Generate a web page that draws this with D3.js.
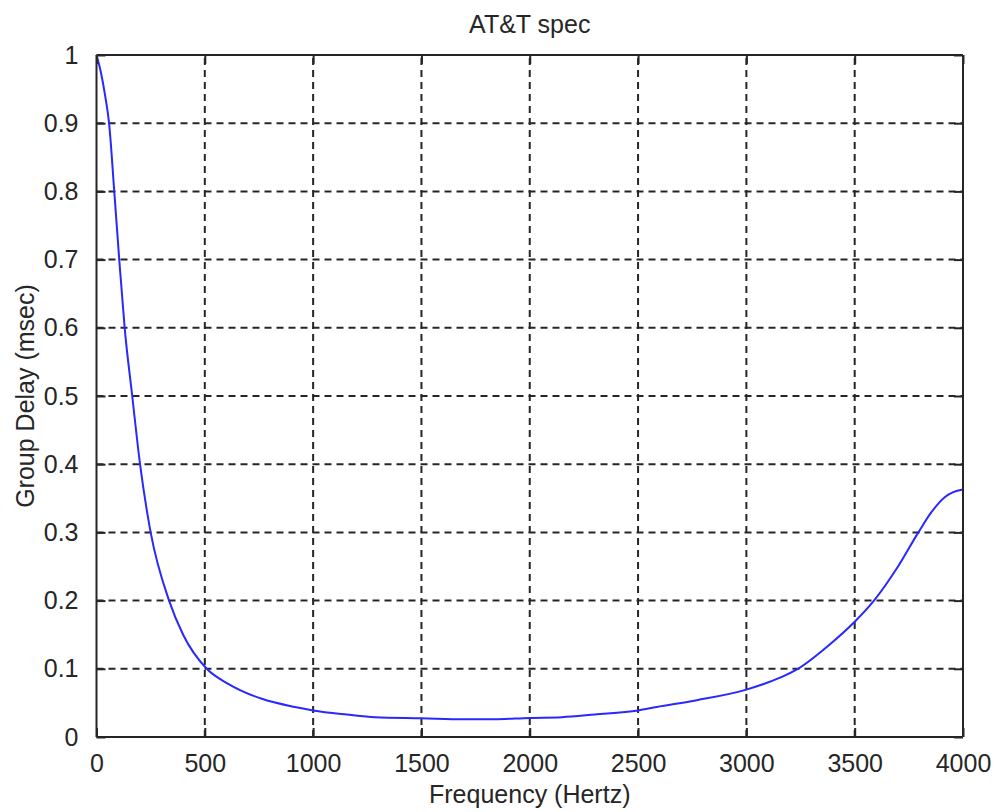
<!DOCTYPE html>
<html>
<head>
<meta charset="utf-8">
<script src="https://cdn.jsdelivr.net/npm/d3@7"></script>
<style>
  html, body { margin: 0; padding: 0; background: #fff; }
  svg { display: block; }
  text { font-family: "Liberation Sans", Arial, sans-serif; fill: #262626; }
</style>
</head>
<body>
<svg id="chart" width="998" height="812"></svg>
<script>
const title = "AT&T spec";
const xLabel = "Frequency (Hertz)";
const yLabel = "Group Delay (msec)";
const xTicks = [0, 500, 1000, 1500, 2000, 2500, 3000, 3500, 4000];
const yTicks = [0, 0.1, 0.2, 0.3, 0.4, 0.5, 0.6, 0.7, 0.8, 0.9, 1];
const yTickLabels = ["0", "0.1", "0.2", "0.3", "0.4", "0.5", "0.6", "0.7", "0.8", "0.9", "1"];
const freq = [0, 20, 40, 58, 82, 105, 130, 165, 201, 250, 335, 400, 509, 608, 763, 916, 1000, 1155, 1286, 1500, 1700, 1832, 2000, 2148, 2301, 2500, 2586, 2771, 3000, 3155, 3238, 3386, 3500, 3589, 3700, 3794, 3855, 3917, 3955, 4000];
const delay = [1.0, 0.975, 0.94, 0.9, 0.8, 0.7, 0.6, 0.5, 0.4, 0.3, 0.2, 0.15, 0.1, 0.078, 0.056, 0.044, 0.039, 0.033, 0.029, 0.0275, 0.026, 0.026, 0.028, 0.029, 0.033, 0.039, 0.044, 0.054, 0.0695, 0.087, 0.1, 0.136, 0.169, 0.2, 0.25, 0.3, 0.33, 0.352, 0.359, 0.363];

const W = 998, H = 812;
const m = {left: 96.5, right: 35, top: 55, bottom: 75};
const svg = d3.select("#chart");
const x = d3.scaleLinear().domain([0, 4000]).range([m.left, W - m.right]);
const y = d3.scaleLinear().domain([0, 1]).range([H - m.bottom, m.top]);
const axisColor = "#262626";
const fs = 25;

// grid
const grid = svg.append("g");
grid.selectAll("line.gx").data(xTicks.slice(1, -1)).enter().append("line")
  .attr("x1", d => x(d)).attr("x2", d => x(d))
  .attr("y1", y(0)).attr("y2", y(1))
  .attr("stroke", axisColor).attr("stroke-width", 2).attr("stroke-dasharray", "7,5");
grid.selectAll("line.gy").data(yTicks.slice(1, -1)).enter().append("line")
  .attr("y1", d => y(d)).attr("y2", d => y(d))
  .attr("x1", x(0)).attr("x2", x(4000))
  .attr("stroke", axisColor).attr("stroke-width", 2).attr("stroke-dasharray", "7,5");

// curve
const pts = freq.map((f, i) => [f, delay[i]]);
svg.append("path").datum(pts)
  .attr("fill", "none").attr("stroke", "#2828ff").attr("stroke-width", 2)
  .attr("d", d3.line().x(d => x(d[0])).y(d => y(d[1])).curve(d3.curveMonotoneX));

// axes (inward ticks on all four sides)
const tl = 9;
const gB = svg.append("g").attr("transform", `translate(0,${y(0)})`)
  .call(d3.axisBottom(x).tickValues(xTicks).tickSize(-tl).tickPadding(tl + 8).tickFormat(d3.format("d")));
const gT = svg.append("g").attr("transform", `translate(0,${y(1)})`)
  .call(d3.axisTop(x).tickValues(xTicks).tickSize(-tl).tickFormat(""));
const gL = svg.append("g").attr("transform", `translate(${x(0)},0)`)
  .call(d3.axisLeft(y).tickValues(yTicks).tickSize(-tl).tickPadding(tl + 9).tickFormat((d, i) => yTickLabels[i]));
const gR = svg.append("g").attr("transform", `translate(${x(4000)},0)`)
  .call(d3.axisRight(y).tickValues(yTicks).tickSize(-tl).tickFormat(""));
[gB, gT, gL, gR].forEach(g => {
  g.select(".domain").attr("stroke", axisColor).attr("stroke-width", 2);
  g.selectAll(".tick line").attr("stroke", axisColor).attr("stroke-width", 2);
  g.selectAll(".tick text").attr("font-size", fs).attr("font-family", "Liberation Sans, Arial, sans-serif").attr("fill", "#262626");
});
gB.selectAll(".domain").attr("d", `M${x(0)},0H${x(4000)}`);
gT.selectAll(".domain").attr("d", `M${x(0)},0H${x(4000)}`);
gL.selectAll(".domain").attr("d", `M0,${y(0)}V${y(1)}`);
gR.selectAll(".domain").attr("d", `M0,${y(0)}V${y(1)}`);

// labels
svg.append("text").attr("x", (x(0) + x(4000)) / 2).attr("y", 33)
  .attr("text-anchor", "middle").attr("font-size", fs).text(title);
svg.append("text").attr("x", (x(0) + x(4000)) / 2).attr("y", 803)
  .attr("text-anchor", "middle").attr("font-size", fs).text(xLabel);
svg.append("text").attr("transform", `translate(34,${(y(0) + y(1)) / 2}) rotate(-90)`)
  .attr("text-anchor", "middle").attr("font-size", fs).text(yLabel);
</script>
</body>
</html>
